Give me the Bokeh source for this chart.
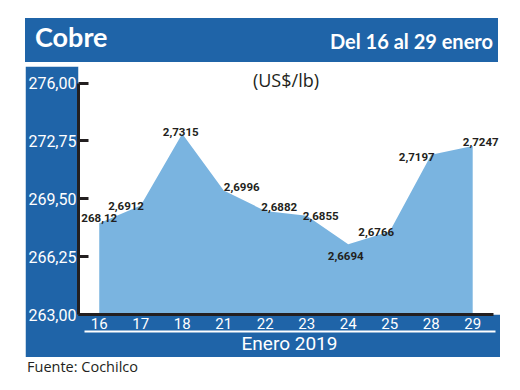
from bokeh.plotting import figure
from bokeh.models import (ColumnDataSource, LinearAxis, FixedTicker, Range1d,
                          Label, Div)
from bokeh.layouts import column
from bokeh.core.properties import value
from bokeh.embed import file_html
from bokeh.resources import INLINE

# ---- data ----
days = ["16", "17", "18", "21", "22", "23", "24", "25", "28", "29"]
prices = [268.12, 269.12, 273.15, 269.96, 268.82, 268.55, 266.94, 267.66, 271.97, 272.47]
price_labels = ["268,12", "2,6912", "2,7315", "2,6996", "2,6882", "2,6855",
                "2,6694", "2,6766", "2,7197", "2,7247"]
y_ticks = [263.0, 266.25, 269.5, 272.75, 276.0]
y_tick_labels = ["263,00", "266,25", "269,50", "272,75", "276,00"]
title = "Cobre"
subtitle = "Del 16 al 29 enero"
unit = "(US$/lb)"
x_title = "Enero 2019"
source_text = "Fuente: Cochilco"

# ---- label placement (styling, screen px) ----
lab_dx = [0, -14.7, -1.5, 18, 14, 14, -2.5, -13.5, -14.5, 8]
lab_dy = [-5, 0, -2, -4, -4, 0, 12, 0, 2, -4]

BLUE = "#1f64a8"
AREA = "#7ab4e0"
INK = "#231f20"
FONT = "Roboto"

x_idx = list(range(len(days)))

header = Div(
    text=(f'<div style="position:relative;width:473px;height:44px;background:{BLUE};'
          f'color:white;font-family:Lato;font-weight:bold;">'
          f'<span style="position:absolute;left:10px;top:5px;font-size:27px;line-height:27px;">{title}</span>'
          f'<span style="position:absolute;right:5px;top:13px;font-size:20px;line-height:20px;">{subtitle}</span>'
          f'</div>'),
    width=473, height=44, margin=(18, 0, 0, 25))

p = figure(frame_width=422, frame_height=248, output_backend="svg", toolbar_location=None,
           x_range=Range1d(-0.5, 9.67), y_range=Range1d(263, 276.93),
           x_axis_location=None, y_axis_location=None,
           min_border_left=51, min_border_right=0, min_border_top=0, min_border_bottom=41)
p.margin = (4, 0, 0, 25)
p.border_fill_color = BLUE
p.background_fill_color = "white"
p.outline_line_color = None
p.grid.visible = False

# y axis
yax = LinearAxis(ticker=FixedTicker(ticks=y_ticks), bounds=(y_ticks[0], y_ticks[-1]))
yax.major_label_overrides = {t: l for t, l in zip(y_ticks, y_tick_labels)}
yax.axis_line_color = INK
yax.axis_line_width = 3
yax.major_tick_line_color = INK
yax.major_tick_line_width = 3
yax.major_tick_in = 10
yax.major_tick_out = 0
yax.minor_tick_line_color = None
yax.major_label_standoff = 2
yax.major_label_text_color = "white"
yax.major_label_text_font = FONT
yax.major_label_text_font_size = "16px"
p.add_layout(yax, "left")

# x axis with day labels
xax = LinearAxis(ticker=FixedTicker(ticks=x_idx), bounds=(-0.5, len(days) - 0.5))
xax.major_label_overrides = {i: d for i, d in zip(x_idx, days)}
xax.axis_line_color = INK
xax.axis_line_width = 3
xax.major_tick_line_color = None
xax.minor_tick_line_color = None
xax.major_tick_out = 0
xax.major_tick_in = 0
xax.major_label_standoff = 3
xax.major_label_text_color = "white"
xax.major_label_text_font = FONT
xax.major_label_text_font_size = "15px"
p.add_layout(xax, "below")

# underline axis + month title
xax2 = LinearAxis(ticker=FixedTicker(ticks=[]), bounds=(-0.355, 9.55))
xax2.axis_line_color = "white"
xax2.axis_line_width = 2
xax2.major_tick_line_color = None
xax2.minor_tick_line_color = None
xax2.major_tick_out = 0
xax2.major_label_standoff = 0
xax2.axis_label = x_title
xax2.axis_label_standoff = 0
xax2.axis_label_text_color = "white"
xax2.axis_label_text_font = FONT
xax2.axis_label_text_font_style = "normal"
xax2.axis_label_text_font_size = "19px"
p.add_layout(xax2, "below")

# area
p.varea(x=x_idx, y1=y_ticks[0], y2=prices, color=AREA)

# value labels
src = ColumnDataSource(dict(x=x_idx, y=prices, label=price_labels, dx=lab_dx, dy=lab_dy))
p.text(x="x", y="y", text="label", source=src, text_align="center",
       text_baseline="alphabetic", x_offset="dx", y_offset="dy",
       text_font=value(FONT), text_font_size="11.5px", text_font_style="bold",
       text_color=INK)

# unit label
p.add_layout(Label(x=(len(days) - 1) / 2, y=y_ticks[-1], text=unit, text_align="center",
                   text_baseline="middle", y_offset=3, text_font="Open Sans",
                   text_font_size="18px", text_color=INK))

foot = Div(text=source_text, margin=(1, 0, 0, 27),
           styles={"font-family": "Open Sans", "font-size": "14.5px", "color": INK,
                   "line-height": "18px"})

layout = column(header, p, foot)
open("out.html", "w").write(file_html(layout, INLINE))
